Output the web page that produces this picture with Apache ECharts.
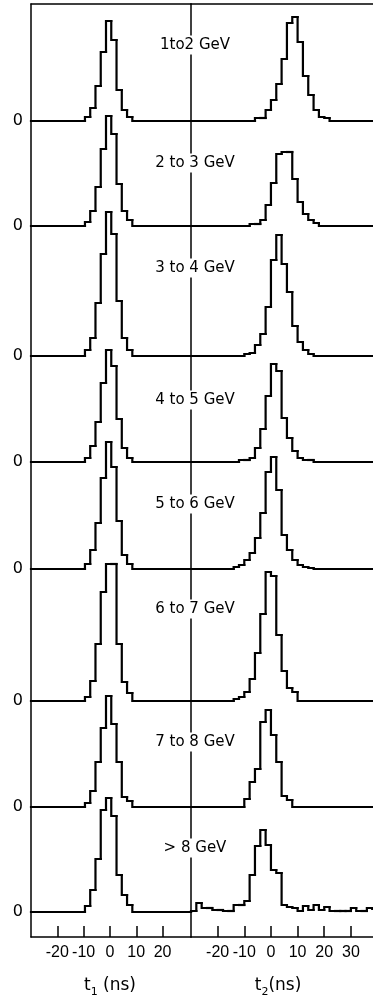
<!DOCTYPE html>
<html>
<head>
<meta charset="utf-8">
<script src="https://cdn.jsdelivr.net/npm/echarts@6/dist/echarts.min.js"></script>
<style>
  html, body { margin: 0; padding: 0; background: #fff; }
  #chart { width: 373px; height: 1003px; }
</style>
</head>
<body>
<div id="chart"></div>
<script>
// Arrival-time distributions t1 and t2, one pair of histograms per energy bin.

const energyBins = ['1to2 GeV', '2 to 3 GeV', '3 to 4 GeV', '4 to 5 GeV',
                    '5 to 6 GeV', '6 to 7 GeV', '7 to 8 GeV', '> 8 GeV'];

const t1Range = [-30, 30.8];
const t2Range = [-30, 38.3];
const binWidth = 2; // ns
const t1Ticks = [-20, -10, 0, 10, 20];
const t2Ticks = [-20, -10, 0, 10, 20, 30];

// lower edge (ns) of the first listed bin, per energy bin
const t1FirstEdge = [-9.5, -9.5, -9.5, -9.5, -9.5, -9.5, -9.5, -9.5];
const t2FirstEdge = [-6, -8, -10, -12, -14, -14, -10, -30];

// counts per 2 ns bin (arbitrary units)
const t1Counts = [
  [4, 13, 35, 69, 100, 81, 31, 11, 4],
  [4, 15, 39, 77, 110, 92, 42, 15, 6],
  [6, 18, 53, 102, 144, 122, 55, 18, 6],
  [4, 16, 40, 79, 112, 96, 43, 14, 4],
  [5, 19, 46, 91, 127, 102, 48, 14, 5],
  [4, 20, 57, 109, 137, 137, 57, 19, 8],
  [4, 16, 45, 79, 111, 83, 45, 10, 6],
  [6, 22, 53, 102, 114, 96, 37, 17, 7]
];
const t2Counts = [
  [3, 3, 11, 21, 37, 62, 98, 104, 79, 45, 26, 11, 4, 3],
  [2, 2, 6, 21, 43, 72, 74, 74, 47, 24, 12, 6, 3],
  [2, 3, 11, 22, 49, 96, 121, 92, 64, 30, 14, 6, 2],
  [2, 2, 4, 14, 33, 66, 98, 91, 44, 24, 11, 4, 2, 2],
  [2, 4, 9, 16, 31, 56, 97, 112, 79, 34, 19, 9, 4, 2, 1],
  [2, 4, 9, 22, 48, 87, 129, 125, 66, 30, 13, 9],
  [8, 25, 38, 85, 97, 72, 45, 11, 7],
  [1, 9, 4, 4, 2, 2, 1, 1, 7, 7, 11, 37, 66, 82, 67, 42, 39, 7, 5, 4,
   1, 6, 2, 7, 2, 5, 1, 1, 1, 1, 4, 1, 1, 4, 3]
];

// ---- layout ----
const FRAME_TOP = 4, FRAME_BOTTOM = 937;
const LEFT_X = 31, MID_X = 191, RIGHT_X = 373;
const PANEL_BASE_Y = [121, 226, 356, 462, 569, 701, 807, 912];
const PANEL_LABEL_Y = [45, 163, 268, 400, 504, 609, 742, 848];
const PANEL_H = 100;      // pixel height of one panel's value range
const Y_MAX = 100;        // counts spanned by PANEL_H
const INK = '#000';
const FONT = 'DejaVu Sans';
const HIST_WIDTH = 2.2;

// Histogram as outline pieces: [lo, hi, count, previous count].
// Each piece rises/falls at lo from the previous level, then runs flat to hi.
function histPieces(firstEdge, counts, range) {
  const clampX = x => Math.min(Math.max(x, range[0]), range[1]);
  const pieces = [];
  const start = clampX(firstEdge);
  if (start > range[0]) pieces.push([range[0], start, 0, 0]);
  let prev = 0;
  counts.forEach((c, k) => {
    const lo = clampX(firstEdge + k * binWidth);
    const hi = clampX(firstEdge + (k + 1) * binWidth);
    if (hi > lo) { pieces.push([lo, hi, c, prev]); prev = c; }
  });
  const end = clampX(firstEdge + counts.length * binWidth);
  if (end < range[1]) pieces.push([end, range[1], 0, prev]);
  return pieces;
}

function renderPiece(params, api) {
  const lo = api.value(0), hi = api.value(1), c = api.value(2), prev = api.value(3);
  return {
    type: 'polyline',
    shape: { points: [api.coord([lo, prev]), api.coord([lo, c]), api.coord([hi, c])] },
    style: { stroke: INK, lineWidth: HIST_WIDTH, fill: null, lineJoin: 'miter', lineCap: 'square' },
    silent: true
  };
}

const grid = [], xAxis = [], yAxis = [], series = [];

// frame grids: bottom scale, top border, left border / divider
function frame(left, width, range, ticks, nameRich, namePad) {
  const g = grid.length;
  grid.push({ left: left, width: width, top: FRAME_TOP, height: FRAME_BOTTOM - FRAME_TOP });
  xAxis.push({
    gridIndex: g, type: 'value', position: 'bottom', min: range[0], max: range[1],
    axisLine: { show: true, onZero: false, lineStyle: { color: INK, width: 1.5 } },
    axisTick: { show: true, inside: true, length: 11, customValues: ticks,
                lineStyle: { color: INK, width: 1.5 } },
    axisLabel: { show: true, customValues: ticks, margin: 8, color: INK,
                 fontFamily: 'Liberation Sans', fontSize: 16 },
    splitLine: { show: false },
    name: nameRich, nameLocation: 'middle', nameGap: 37,
    nameTextStyle: {
      color: INK, padding: namePad,
      rich: {
        t: { fontFamily: FONT, fontSize: 17, color: INK, lineHeight: 24, verticalAlign: 'middle' },
        s: { fontFamily: FONT, fontSize: 11, color: INK, lineHeight: 24, verticalAlign: 'bottom' }
      }
    }
  });
  xAxis.push({
    gridIndex: g, type: 'value', position: 'top', min: range[0], max: range[1],
    axisLine: { show: true, onZero: false, lineStyle: { color: INK, width: 1.5 } },
    axisTick: { show: false }, axisLabel: { show: false }, splitLine: { show: false }
  });
  yAxis.push({
    gridIndex: g, type: 'value', position: 'left', min: 0, max: 1,
    axisLine: { show: true, onZero: false, lineStyle: { color: INK, width: 1.5 } },
    axisTick: { show: false }, axisLabel: { show: false }, splitLine: { show: false }
  });
}
frame(LEFT_X, MID_X - LEFT_X, t1Range, t1Ticks, '{t|t}{s|1}{t| (ns)}', [0, 2, 0, 0]);
frame(MID_X, RIGHT_X - MID_X, t2Range, t2Ticks, '{t|t}{s|2}{t|(ns)}', [0, 8, 0, 0]);

// one grid per histogram
energyBins.forEach((label, p) => {
  const top = PANEL_BASE_Y[p] - PANEL_H;
  [[LEFT_X, MID_X - LEFT_X, t1Range, t1FirstEdge[p], t1Counts[p], true],
   [MID_X, RIGHT_X - MID_X, t2Range, t2FirstEdge[p], t2Counts[p], false]]
  .forEach(([left, width, range, first, counts, showZero]) => {
    const g = grid.length;
    grid.push({ left: left, width: width, top: top, height: PANEL_H });
    xAxis.push({ gridIndex: g, type: 'value', min: range[0], max: range[1], show: false,
                 axisLine: { onZero: false } });
    yAxis.push({
      gridIndex: g, type: 'value', min: 0, max: Y_MAX, show: showZero,
      axisLine: { show: false, onZero: false }, axisTick: { show: false }, splitLine: { show: false },
      axisLabel: { show: showZero, customValues: [0], margin: 8, color: INK,
                   fontFamily: FONT, fontSize: 16 }
    });
    series.push({
      type: 'custom', name: label, xAxisIndex: xAxis.length - 1, yAxisIndex: yAxis.length - 1,
      data: histPieces(first, counts, range),
      encode: { x: [0, 1], y: [2, 3] },
      renderItem: renderPiece, clip: false, silent: true
    });
  });
});

const graphic = energyBins.map((label, p) => ({
  type: 'text', x: 195, y: PANEL_LABEL_Y[p], z: 100,
  style: {
    text: label, font: '15px "' + FONT + '"', fill: INK,
    align: 'center', verticalAlign: 'middle',
    textAlign: 'center', textVerticalAlign: 'middle',
    backgroundColor: '#fff', padding: [2, 2]
  }
}));

const chart = echarts.init(document.getElementById('chart'), null, { renderer: 'canvas' });
chart.setOption({
  backgroundColor: '#fff',
  animation: false,
  grid: grid, xAxis: xAxis, yAxis: yAxis, series: series, graphic: graphic
});
</script>
</body>
</html>
